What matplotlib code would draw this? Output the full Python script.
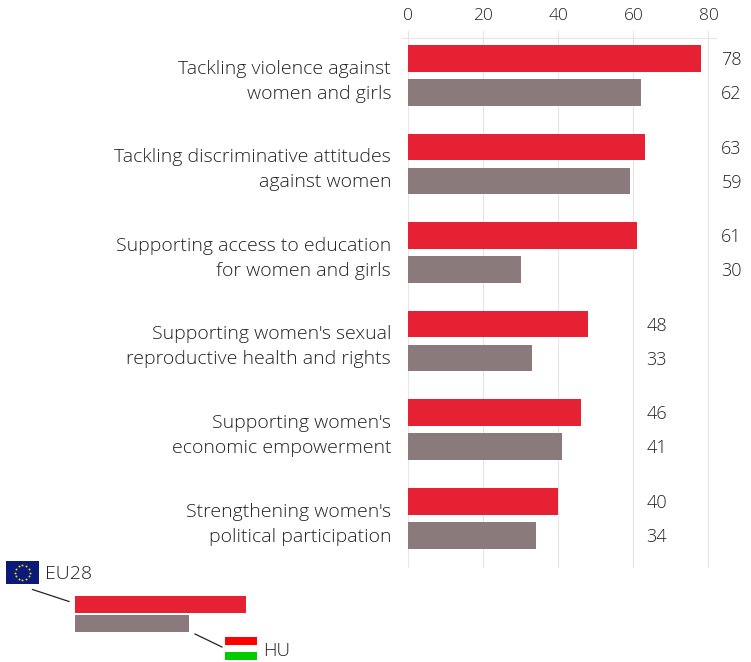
import numpy as np
import matplotlib
matplotlib.use("Agg")
import matplotlib.pyplot as plt

plt.rcParams["font.family"] = ["Open Sans", "DejaVu Sans"]

labels = [
    "Tackling violence against\nwomen and girls",
    "Tackling discriminative attitudes\nagainst women",
    "Supporting access to education\nfor women and girls",
    "Supporting women's sexual\nreproductive health and rights",
    "Supporting women's\neconomic empowerment",
    "Strengthening women's\npolitical participation",
]
eu28 = [78, 63, 61, 48, 46, 40]
hu = [62, 59, 30, 33, 41, 34]
ticks = [0, 20, 40, 60, 80]

RED = "#e62133"
GREY = "#8a7a7b"
GRID = "#e6e6e6"
TEXT = "#222222"
W, H = 751, 662

fig = plt.figure(figsize=(W / 100, H / 100), dpi=100)

# pixel box of the plot area
left, right, top, bottom = 402, 716, 37.5, 568
ax = fig.add_axes([left / W, 1 - bottom / H, (right - left) / W, (bottom - top) / H])

y = np.arange(len(labels))
offset = 0.383
height = 0.3
ax.barh(y, eu28, height=height, color=RED, zorder=3)
ax.barh(y + offset, hu, height=height, color=GREY, zorder=3)

ax.set_xlim(-1.6, 82)
ax.set_ylim(5.753, -0.235)
ax.set_xticks(ticks)
ax.set_yticks([])
ax.xaxis.tick_top()
ax.tick_params(axis="x", length=6, width=0.8, color=GRID, labelcolor=TEXT, labelsize=12.5, pad=4)
for t in ax.get_xticklabels():
    t.set_fontweight("light")
ax.grid(axis="x", color=GRID, linewidth=0.8, zorder=0)
for name in ["left", "right", "bottom"]:
    ax.spines[name].set_visible(False)
ax.spines["top"].set_color(GRID)
ax.spines["top"].set_linewidth(0.8)

for i, label in enumerate(labels):
    ax.text(-4.5, i + offset / 2 + 0.065, label, ha="right", va="center", fontsize=14,
            color=TEXT, linespacing=1.5, fontweight="light", clip_on=False)

    # the value column moves left once the bars are short enough
    col = 83.4 if eu28[i] > 50 else 63.4
    ax.text(col, i + 0.02, str(eu28[i]), va="center", fontsize=13, color=TEXT,
            fontweight="light", clip_on=False)
    ax.text(col, i + offset + 0.02, str(hu[i]), va="center", fontsize=13, color=TEXT,
            fontweight="light", clip_on=False)

# legend sits in its own pixel-based overlay
key = fig.add_axes([0, 0, 1, 1])
key.set_xlim(0, W)
key.set_ylim(H, 0)
key.axis("off")
key.patch.set_alpha(0)

key.barh(604.3, 171, height=16.7, left=75, color=RED)
key.barh(623.6, 114, height=16.7, left=75, color=GREY)

key.fill_between([6, 38.5], 561, 584, color="#0b1a78", linewidth=0)
a = np.arange(12) * np.pi / 6
key.scatter(22.3 + 7.5 * np.cos(a), 572.5 + 7.5 * np.sin(a), s=2, color="#e8d020", linewidths=0, zorder=3)
key.text(45, 574, "EU28", va="center", fontsize=14, color=TEXT, fontweight="light")
key.plot([32.5, 69], [589.5, 601.5], color=TEXT, linewidth=0.9)

key.fill_between([225, 257], 637, 644.5, color="#ff0000", linewidth=0)
key.fill_between([225, 257], 652, 660, color="#00cc00", linewidth=0)
key.text(263, 651, "HU", va="center", fontsize=13.5, color=TEXT, fontweight="light")
key.plot([195, 222], [634, 647], color=TEXT, linewidth=0.9)

fig.savefig("out.png", dpi=100)
